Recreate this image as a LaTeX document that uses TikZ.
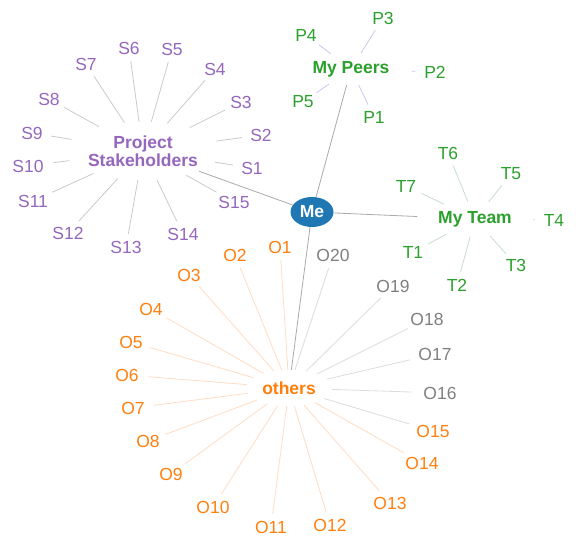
\documentclass[tikz,border=0pt]{standalone}
\usepackage{fontspec}
\setmainfont{Liberation Sans}
\usetikzlibrary{shapes.geometric}
\definecolor{cpurple}{HTML}{9467BD}
\definecolor{cgreen}{HTML}{2CA02C}
\definecolor{corange}{HTML}{FF7F0E}
\definecolor{cgray}{HTML}{7F7F7F}
\definecolor{cblue}{HTML}{1F77B4}
\definecolor{emain}{HTML}{AAAAAA}
\definecolor{es}{HTML}{CACACA}
\definecolor{ep}{HTML}{C8C8F0}
\definecolor{et}{HTML}{C6DCD0}
\definecolor{eo}{HTML}{FFDCC2}
\definecolor{eg}{HTML}{DCDCDC}
\tikzset{
  leaf/.style={ellipse, inner sep=3pt, font=\fontsize{17.5}{18}\selectfont},
  hub/.style={ellipse, inner sep=0pt, align=center, font=\bfseries\fontsize{17.5}{18}\selectfont},
  edg/.style={line width=0.8pt},
}
\begin{document}
\begin{tikzpicture}[x=1pt,y=-1pt]
\useasboundingbox (0,0) rectangle (576,543);
% hubs
\node[ellipse, fill=cblue, text=white, inner sep=0pt, minimum width=43pt, minimum height=30pt,
      font=\bfseries\fontsize{17.5}{18}\selectfont] (me) at (312,212) {Me};
\node[hub, text=cpurple, minimum width=152pt, minimum height=58pt] (stake) at (143,151) {Project\\Stakeholders};
\node[hub, text=cgreen, minimum width=122pt, minimum height=32pt] (peers) at (351,69) {My Peers};
\node[hub, text=cgreen, minimum width=116pt, minimum height=35pt] (team) at (475,219) {My Team};
\node[hub, text=corange, minimum width=86pt, minimum height=36pt] (others) at (289,388) {others};
% main edges
\foreach \h in {stake,peers,team,others}
  \draw[edg, emain] (me) -- (\h);
% stakeholders
\foreach \i/\x/\y in {1/252/168,2/261/135,3/241/102,4/215/69,5/172/49,6/129/48,7/86/64,8/49/99,
  9/32/133,10/28/166,11/33/201,12/68/233,13/126/247,14/183/234,15/234/202}{
  \node[leaf, text=cpurple] (s\i) at (\x,\y) {S\i};
  \draw[edg, es] (stake) -- (s\i);
}
% peers
\foreach \i/\x/\y in {1/374/117,2/435/72,3/383/18,4/306/35,5/303/102}{
  \node[leaf, text=cgreen] (p\i) at (\x,\y) {P\i};
  \draw[edg, ep] (peers) -- (p\i);
}
% team
\foreach \i/\x/\y in {1/413/252,2/457/285,3/516/265,4/554/220,5/511/174,6/448/153,7/406/186}{
  \node[leaf, text=cgreen] (t\i) at (\x,\y) {T\i};
  \draw[edg, et] (team) -- (t\i);
}
% others
\foreach \i/\x/\y in {1/280/247,2/235/255,3/189/275,4/151/309,5/131/342,6/127/375,7/133/408,
  8/148/441,9/171/474,10/213/507,11/271/527,12/330/525,13/390/503,14/422/463}{
  \node[leaf, text=corange] (o\i) at (\x,\y) {O\i};
  \draw[edg, eo] (others) -- (o\i);
}
\node[leaf, text=corange] (o15) at (433,431) {O15};
\draw[edg, eg] (others) -- (o15);
\foreach \i/\x/\y in {16/440/393,17/435/354,18/427/319,19/393/286,20/333/255}{
  \node[leaf, text=cgray] (o\i) at (\x,\y) {O\i};
  \draw[edg, eg] (others) -- (o\i);
}
\end{tikzpicture}
\end{document}
